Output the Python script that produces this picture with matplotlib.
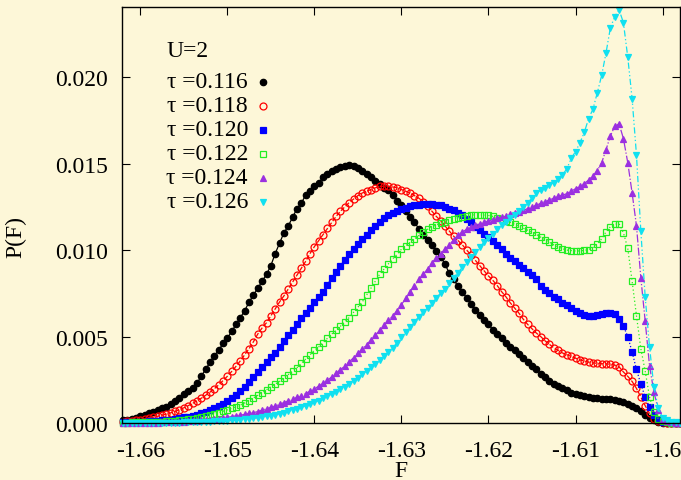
import numpy as np
import matplotlib
matplotlib.use("Agg")
import matplotlib.pyplot as plt

plt.rcParams['font.family'] = ['Liberation Serif', 'DejaVu Serif']
plt.rcParams['axes.unicode_minus'] = False

# bin centres of the histogram (regular grid, step 0.0005)
F = np.round(np.arange(-1.662, -1.59795, 0.0005), 4)

# P(F) in units of 1e-4, 10 bins per row
p116 = [1.5, 2, 2.5, 3, 4, 4.8, 5.5, 6.3, 7.3, 8.5,
        9.5, 11, 12.5, 14.5, 16.5, 18.5, 20.5, 23, 27, 31,
        35, 39, 42, 46, 49, 53, 57, 61, 65, 70,
        74, 78, 82, 86, 91, 98, 104, 110, 114, 119,
        124, 127, 132, 134, 137, 139, 142, 144, 146, 147,
        148, 148.5, 149, 148.5, 147.5, 146, 144, 142, 140, 138,
        136, 135, 132, 128.5, 126, 122.5, 119, 116.5, 112, 108.5,
        106, 103, 99.5, 96, 92, 86.5, 83, 79, 75.5, 72.5,
        69, 65.5, 62.5, 59.5, 57, 54, 51.5, 49, 46.5, 44,
        42, 40, 37.5, 35.5, 33, 31, 28.5, 26.5, 24.5, 22.5,
        21.5, 20, 18.8, 17.5, 16.7, 16, 15.5, 15, 14.5, 14.2,
        14, 14, 13.8, 13.4, 13, 12.3, 11.2, 10, 8.7, 6.8,
        4.8, 3, 1.6, 0.6, 0.2, 0.1, 0.05, 0.02, 0]
p118 = [0.8, 1.0, 1.3, 1.6, 2.0, 2.4, 2.8, 3.3, 3.9, 4.5,
        5.2, 5.9, 6.7, 7.7, 8.8, 10, 11.3, 12.8, 14.3, 16,
        17.8, 19.8, 22, 24.5, 27, 29.8, 32.8, 36, 39.5, 43,
        47, 51.5, 55, 58, 62, 66, 70, 73.5, 77.5, 81.5,
        85.5, 89.5, 93.5, 98, 102, 105.5, 109, 112.5, 116, 119.5,
        122.5, 125, 127.5, 129.5, 131.5, 133, 134, 135, 136, 136.8,
        137, 137, 136.5, 136, 135, 134, 133, 131.5, 130, 128,
        125.5, 122.5, 119.5, 117, 114, 111, 108, 105.5, 103, 100,
        97, 94, 91, 88, 85, 82.5, 79.5, 76, 73, 69.5,
        66.5, 63.5, 60, 57, 54.5, 52, 50, 47.5, 45.5, 43.5,
        42, 40.5, 39.5, 38.5, 37.5, 36.5, 35.8, 35.2, 34.8, 34.5,
        34.3, 34.2, 34, 33.5, 32.5, 29.5, 27, 24, 20, 15,
        10, 5.5, 2.5, 1.0, 0.4, 0.2, 0.1, 0.05, 0]
p120 = [0.3, 0.4, 0.5, 0.6, 0.7, 0.8, 1.0, 1.1, 1.3, 1.5,
        1.7, 2.0, 2.3, 2.7, 3.2, 3.7, 4.2, 4.8, 5.6, 6.5,
        7.5, 8.6, 9.8, 11.2, 12.7, 14.3, 16.2, 18.3, 20.6, 23.5,
        26.5, 29.5, 32.5, 35.5, 38, 40.5, 44, 47.5, 51, 54,
        57, 60.5, 63.5, 66.5, 70, 73, 76, 80, 84, 87.5,
        91, 94.5, 97.5, 100.5, 103.5, 106.5, 109, 111.5, 114, 116.5,
        118.5, 120, 121.5, 122.5, 123.5, 124.5, 125.3, 125.8, 126.2, 126.5,
        126.7, 126.5, 126.2, 125.8, 125, 124, 123, 121.5, 120, 118,
        116, 113.5, 111.5, 109.5, 107.5, 105.5, 103, 100.5, 98, 95.5,
        93.5, 91.5, 89.5, 87.5, 85.5, 83, 79.5, 77, 75, 73,
        71.5, 69.5, 68, 66.5, 65, 63.5, 62.5, 61.7, 61.7, 62.5,
        63.3, 63.7, 63.7, 63, 60, 56, 50, 41, 31, 22.5,
        15, 9, 4.5, 1.8, 0.8, 0.4, 0.2, 0.1, 0.05]
p122 = [0.2, 0.25, 0.3, 0.35, 0.4, 0.5, 0.55, 0.65, 0.75, 0.85,
        1.0, 1.15, 1.3, 1.5, 1.8, 2.1, 2.5, 3.0, 3.6, 4.1,
        4.7, 5.3, 6.0, 6.8, 7.6, 8.5, 9.4, 10.4, 11.6, 13,
        14.5, 16, 17.5, 19.2, 21, 22.5, 24, 26, 28, 30,
        32, 34.5, 37, 39.5, 42, 44, 46.5, 49, 51.5, 53.5,
        56, 58.5, 61, 64, 67, 70, 74, 78, 82, 86,
        89, 92, 95, 97.5, 100.5, 102.5, 104.5, 106.5, 108.5, 110.5,
        112, 113.5, 114.5, 115.5, 116.5, 117.3, 118, 118.7, 119.3, 119.8,
        120.2, 120.4, 120.4, 120.3, 120, 119.5, 118.8, 118, 117, 116,
        115, 113.8, 112.6, 111.5, 110.3, 109, 107.5, 106, 104.5, 103,
        101.8, 100.8, 100, 99.7, 99.5, 99.5, 99.8, 100.3, 101.5, 103.5,
        106.5, 110.5, 113.5, 115, 115.3, 110, 101, 82, 62, 43,
        30, 15, 6.5, 2.5, 1.2, 0.5, 0.2, 0.1, 0.05]
p124 = [0.05, 0.06, 0.08, 0.1, 0.12, 0.15, 0.18, 0.22, 0.27, 0.33,
        0.4, 0.48, 0.57, 0.68, 0.8, 0.95, 1.1, 1.3, 1.5, 1.75,
        2.0, 2.3, 2.6, 2.95, 3.3, 3.7, 4.1, 4.5, 5.0, 5.5,
        6.0, 6.6, 7.4, 8.2, 9.0, 9.8, 10.8, 11.8, 12.8, 13.8,
        14.8, 15.8, 17, 18.4, 19.8, 21.3, 22.9, 24.7, 26.7, 28.8,
        30.8, 33, 35.3, 37.8, 40.3, 42.8, 45.3, 48, 50.8, 53.5,
        56.5, 59.3, 62, 65, 68.5, 72, 76, 79.5, 83, 86,
        89, 92.5, 95.5, 98, 100.5, 103, 106, 108.5, 110.5, 112,
        113.2, 114.3, 115.2, 116, 116.8, 117.6, 118.3, 119, 119.8, 120.6,
        121.4, 122.2, 123, 124, 125, 126, 127, 128, 129, 130,
        131, 131.8, 132.6, 134, 135.5, 137, 138.5, 140.5, 143, 146,
        150.5, 158, 166, 171.5, 173, 164.5, 150.5, 133, 114, 84,
        59, 33, 18, 7.7, 2.5, 1, 0.4, 0.2, 0.1]
p126 = [0.02, 0.03, 0.04, 0.05, 0.06, 0.07, 0.08, 0.1, 0.12, 0.14,
        0.17, 0.2, 0.23, 0.27, 0.32, 0.38, 0.44, 0.5, 0.58, 0.67,
        0.77, 0.88, 1.0, 1.15, 1.3, 1.5, 1.7, 1.9, 2.15, 2.4,
        2.7, 3.0, 3.4, 3.8, 4.2, 4.7, 5.3, 6.0, 6.7, 7.4,
        8.2, 9.1, 10, 11, 12, 13, 14.2, 15.4, 16.7, 18,
        19.4, 21, 22.7, 24.5, 26.3, 28.2, 30.1, 32.1, 34, 36.2,
        38.5, 41, 43.5, 46.5, 49.5, 52.5, 55.5, 58.5, 61.5, 64,
        66.5, 69.5, 72.5, 75, 77.5, 81, 84, 87, 90, 93,
        96, 99, 102, 104.5, 107, 109.5, 112, 114.5, 116.5, 118.5,
        120.5, 122.5, 125, 127.5, 130, 133, 134.6, 136, 137.5, 139,
        141, 143.5, 147, 153, 157, 162, 168, 176, 181.5, 191,
        201, 214, 228.5, 235, 239, 231.5, 211.5, 187.5, 155, 111,
        73, 44, 21, 8.7, 3, 1.7, 0.8, 0.4, 0.2]

taus = ['0.116', '0.118', '0.120', '0.122', '0.124', '0.126']
series = [p116, p118, p120, p122, p124, p126]

xticks = [-1.66, -1.65, -1.64, -1.63, -1.62, -1.61, -1.60]
xticklabels = ['-1.66', '-1.65', '-1.64', '-1.63', '-1.62', '-1.61', '-1.6']
yticks = [0.0, 0.005, 0.010, 0.015, 0.020]
yticklabels = ['0.000', '0.005', '0.010', '0.015', '0.020']

# styles: colour, marker, filled?, line style, marker size
styles = [
    ('black', 'o', True, '-', 4.6),
    ('#ff0000', 'o', False, '--', 5.0),
    ('#0000ff', 's', True, ':', 4.8),
    ('#22ee22', 's', False, (0, (1, 2)), 5.0),
    ('#9b30e0', '^', True, '-.', 5.0),
    ('#10e0f0', 'v', True, (0, (5, 2, 1, 2, 1, 2)), 5.0),
]

bg = '#fdf7d8'
fig = plt.figure(figsize=(6.81, 4.81), dpi=100, facecolor=bg)
ax = fig.add_axes([122 / 681, 57 / 481, 558 / 681, 415.7 / 481])
ax.set_facecolor(bg)

for vals, (col, mk, filled, ls, ms) in zip(series, styles):
    ax.plot(F, np.array(vals) * 1e-4, color=col, ls=ls, lw=0.9,
            marker=mk, ms=ms, mew=0.9,
            mfc=col if filled else 'none', mec=col, clip_on=False)

ax.set_xlim(-1.6621, -1.5980)
ax.set_ylim(0.0, 0.02404)
ax.set_xticks(xticks)
ax.set_xticklabels(xticklabels)
ax.set_yticks(yticks)
ax.set_yticklabels(yticklabels)
ax.tick_params(axis='both', direction='in', length=6, width=0.8,
               top=True, right=True, labelsize=17)
ax.tick_params(axis='x', pad=12)
ax.tick_params(axis='y', pad=10)
for s in ax.spines.values():
    s.set_linewidth(1.0)

ax.set_xlabel('F', fontsize=17)
ax.xaxis.set_label_coords(0.5, -0.088)
ax.set_ylabel('P(F)', fontsize=17)
ax.yaxis.set_label_coords(-0.172, 0.45)

# key: title, then text with the sample to its right
ax.text(0.0789, 0.8956, 'U=2', transform=ax.transAxes, fontsize=17,
        ha='left', va='center')
for i, ((col, mk, filled, ls, ms), t) in enumerate(zip(styles, taus)):
    yk = 0.8211 - i * 0.0578
    ax.text(0.2258, yk, '\u03c4 =' + t, transform=ax.transAxes,
            fontsize=17, ha='right', va='center')
    ax.plot([0.2532], [yk], transform=ax.transAxes, ls='none',
            marker=mk, ms=ms, mew=0.9, color=col,
            mfc=col if filled else 'none', mec=col)

fig.savefig('out.png', dpi=100, facecolor=bg)
